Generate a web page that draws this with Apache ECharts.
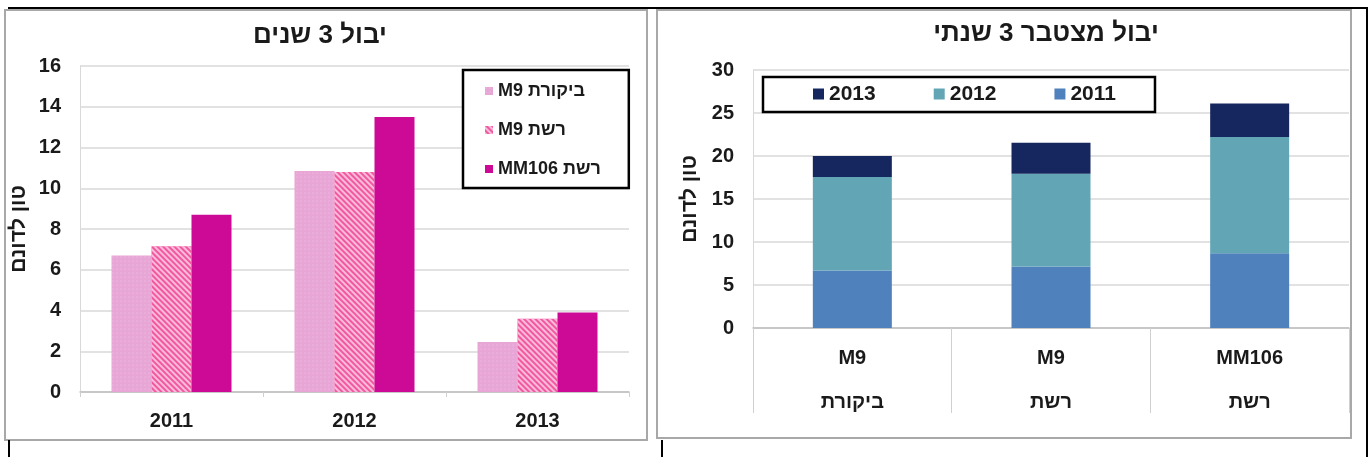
<!DOCTYPE html>
<html>
<head>
<meta charset="utf-8">
<script src="https://cdn.jsdelivr.net/npm/echarts@6/dist/echarts.min.js"></script>
<style>
html,body{margin:0;padding:0;background:#fff;}
#c{width:1371px;height:457px;}
</style>
</head>
<body>
<div id="c" dir="rtl"></div>
<script>
// ---- data ----
const years = ['2011', '2012', '2013'];
const rootstocks = ['M9', 'M9', 'MM106'];
const treatments = ['ביקורת', 'רשת', 'רשת'];
// yield (ton/dunam) per treatment, by year
const controlM9 = [6.7, 10.85, 2.45];
const netM9 = [7.15, 10.8, 3.6];
const netMM106 = [8.7, 13.5, 3.9];
const leftYTicks = {min: 0, max: 16, interval: 2};
const rightYTicks = {min: 0, max: 30, interval: 5};
const titleLeft = 'יבול 3 שנים';
const titleRight = 'יבול מצטבר 3 שנתי';
const yName = 'טון לדונם';

// ---- derived ----
const seriesNames = treatments.map((t, i) => t + ' ' + rootstocks[i]);
const byTreatment = [controlM9, netM9, netMM106];
const byYear = years.map((y, yi) => byTreatment.map(arr => arr[yi]));

const FONT = "'Liberation Sans', Arial, sans-serif";
const txt = '#1a1a1a';
const gridColor = '#D9D9D9';

const leftStyles = [
  {color: '#E8A6D6', decal: {symbol: 'circle', symbolSize: 0.6, dashArrayX: [[2, 2]], dashArrayY: [2, 2], color: 'rgba(255,255,255,0.35)'}},
  {color: '#F0589F', decal: {symbol: 'rect', dashArrayX: [1, 0], dashArrayY: [2, 2], rotation: Math.PI / 4, color: 'rgba(255,205,230,0.85)'}},
  {color: '#CC0A96'}
];
const rightColors = ['#4F81BD', '#62A6B5', '#15275E'];

const chart = echarts.init(document.getElementById('c'), null, {renderer: 'canvas'});

const series = [];
seriesNames.forEach((n, i) => {
  series.push({
    name: n, type: 'bar', xAxisIndex: 0, yAxisIndex: 0,
    data: byTreatment[i], barWidth: 40, barGap: '0%',
    itemStyle: leftStyles[i]
  });
});
years.forEach((y, i) => {
  series.push({
    name: y, type: 'bar', xAxisIndex: 1, yAxisIndex: 1, stack: 'total',
    data: byYear[i], barWidth: 79,
    itemStyle: {color: rightColors[i]}
  });
});

const yAxisCommon = {
  type: 'value',
  nameLocation: 'middle',
  nameTextStyle: {fontFamily: FONT, fontWeight: 'bold', fontSize: 21, color: txt},
  axisLabel: {fontFamily: FONT, fontWeight: 'bold', fontSize: 20, color: txt, margin: 19},
  axisLine: {show: true, lineStyle: {color: gridColor}},
  axisTick: {show: false},
  splitLine: {lineStyle: {color: gridColor, width: 1.5}}
};

chart.setOption({
  animation: false,
  backgroundColor: '#fff',
  title: [
    {text: titleLeft, left: 320, top: 23, textAlign: 'center', padding: 0,
     textStyle: {fontFamily: FONT, fontWeight: 'bold', fontSize: 26, color: txt}},
    {text: titleRight, left: 1046, top: 21, textAlign: 'center', padding: 0,
     textStyle: {fontFamily: FONT, fontWeight: 'bold', fontSize: 26, color: txt}}
  ],
  legend: [
    {data: seriesNames, orient: 'vertical', left: 463, top: 70,
     padding: [11, 28, 9, 22], itemGap: 19, itemWidth: 8, itemHeight: 8, icon: 'rect',
     borderColor: '#000', borderWidth: 2.5, backgroundColor: '#fff',
     textStyle: {fontFamily: FONT, fontWeight: 'bold', fontSize: 18, color: txt, lineHeight: 20}},
    {data: years.slice().reverse(), orient: 'horizontal', left: 763, top: 77,
     padding: [6, 39, 7, 50], itemGap: 58, itemWidth: 11, itemHeight: 11, icon: 'rect',
     borderColor: '#000', borderWidth: 2.5, backgroundColor: '#fff',
     textStyle: {fontFamily: FONT, fontWeight: 'bold', fontSize: 21, color: txt, lineHeight: 22}}
  ],
  grid: [
    {left: 80, top: 66, width: 549, height: 326},
    {left: 753, top: 70, width: 596, height: 258}
  ],
  xAxis: [
    {type: 'category', gridIndex: 0, data: years,
     axisLine: {lineStyle: {color: '#BFBFBF', width: 1.5}},
     axisTick: {show: true, length: 5, lineStyle: {color: '#D0D0D0'}},
     axisLabel: {fontFamily: FONT, fontWeight: 'bold', fontSize: 20, color: txt, margin: 18, lineHeight: 22}},
    {type: 'category', gridIndex: 1, data: rootstocks.map((r, i) => r + '\n' + treatments[i]),
     axisLine: {lineStyle: {color: '#BFBFBF', width: 1.5}},
     axisTick: {show: true, length: 85, interval: 0, lineStyle: {color: '#D0D0D0'}},
     axisLabel: {fontFamily: FONT, fontWeight: 'bold', fontSize: 20, color: txt, margin: 8, lineHeight: 44, interval: 0}}
  ],
  yAxis: [
    Object.assign({}, yAxisCommon, {gridIndex: 0, name: yName, nameGap: 50}, leftYTicks),
    Object.assign({}, yAxisCommon, {gridIndex: 1, name: yName, nameGap: 52}, rightYTicks)
  ],
  series: series,
  graphic: [
    {type: 'rect', silent: true, z: -10, shape: {x: 5, y: 10, width: 642, height: 430},
     style: {fill: 'none', stroke: '#A8A8A8', lineWidth: 2}},
    {type: 'rect', silent: true, z: -10, shape: {x: 657, y: 10, width: 694, height: 428},
     style: {fill: 'none', stroke: '#A8A8A8', lineWidth: 2}},
    {type: 'line', silent: true, shape: {x1: 8, y1: 8, x2: 1368, y2: 8}, style: {stroke: '#000', lineWidth: 2}},
    {type: 'line', silent: true, shape: {x1: 1367, y1: 8, x2: 1367, y2: 457}, style: {stroke: '#000', lineWidth: 2}},
    {type: 'line', silent: true, shape: {x1: 9, y1: 440, x2: 9, y2: 457}, style: {stroke: '#000', lineWidth: 2}},
    {type: 'line', silent: true, shape: {x1: 662, y1: 440, x2: 662, y2: 457}, style: {stroke: '#000', lineWidth: 2}}
  ]
});
</script>
</body>
</html>
